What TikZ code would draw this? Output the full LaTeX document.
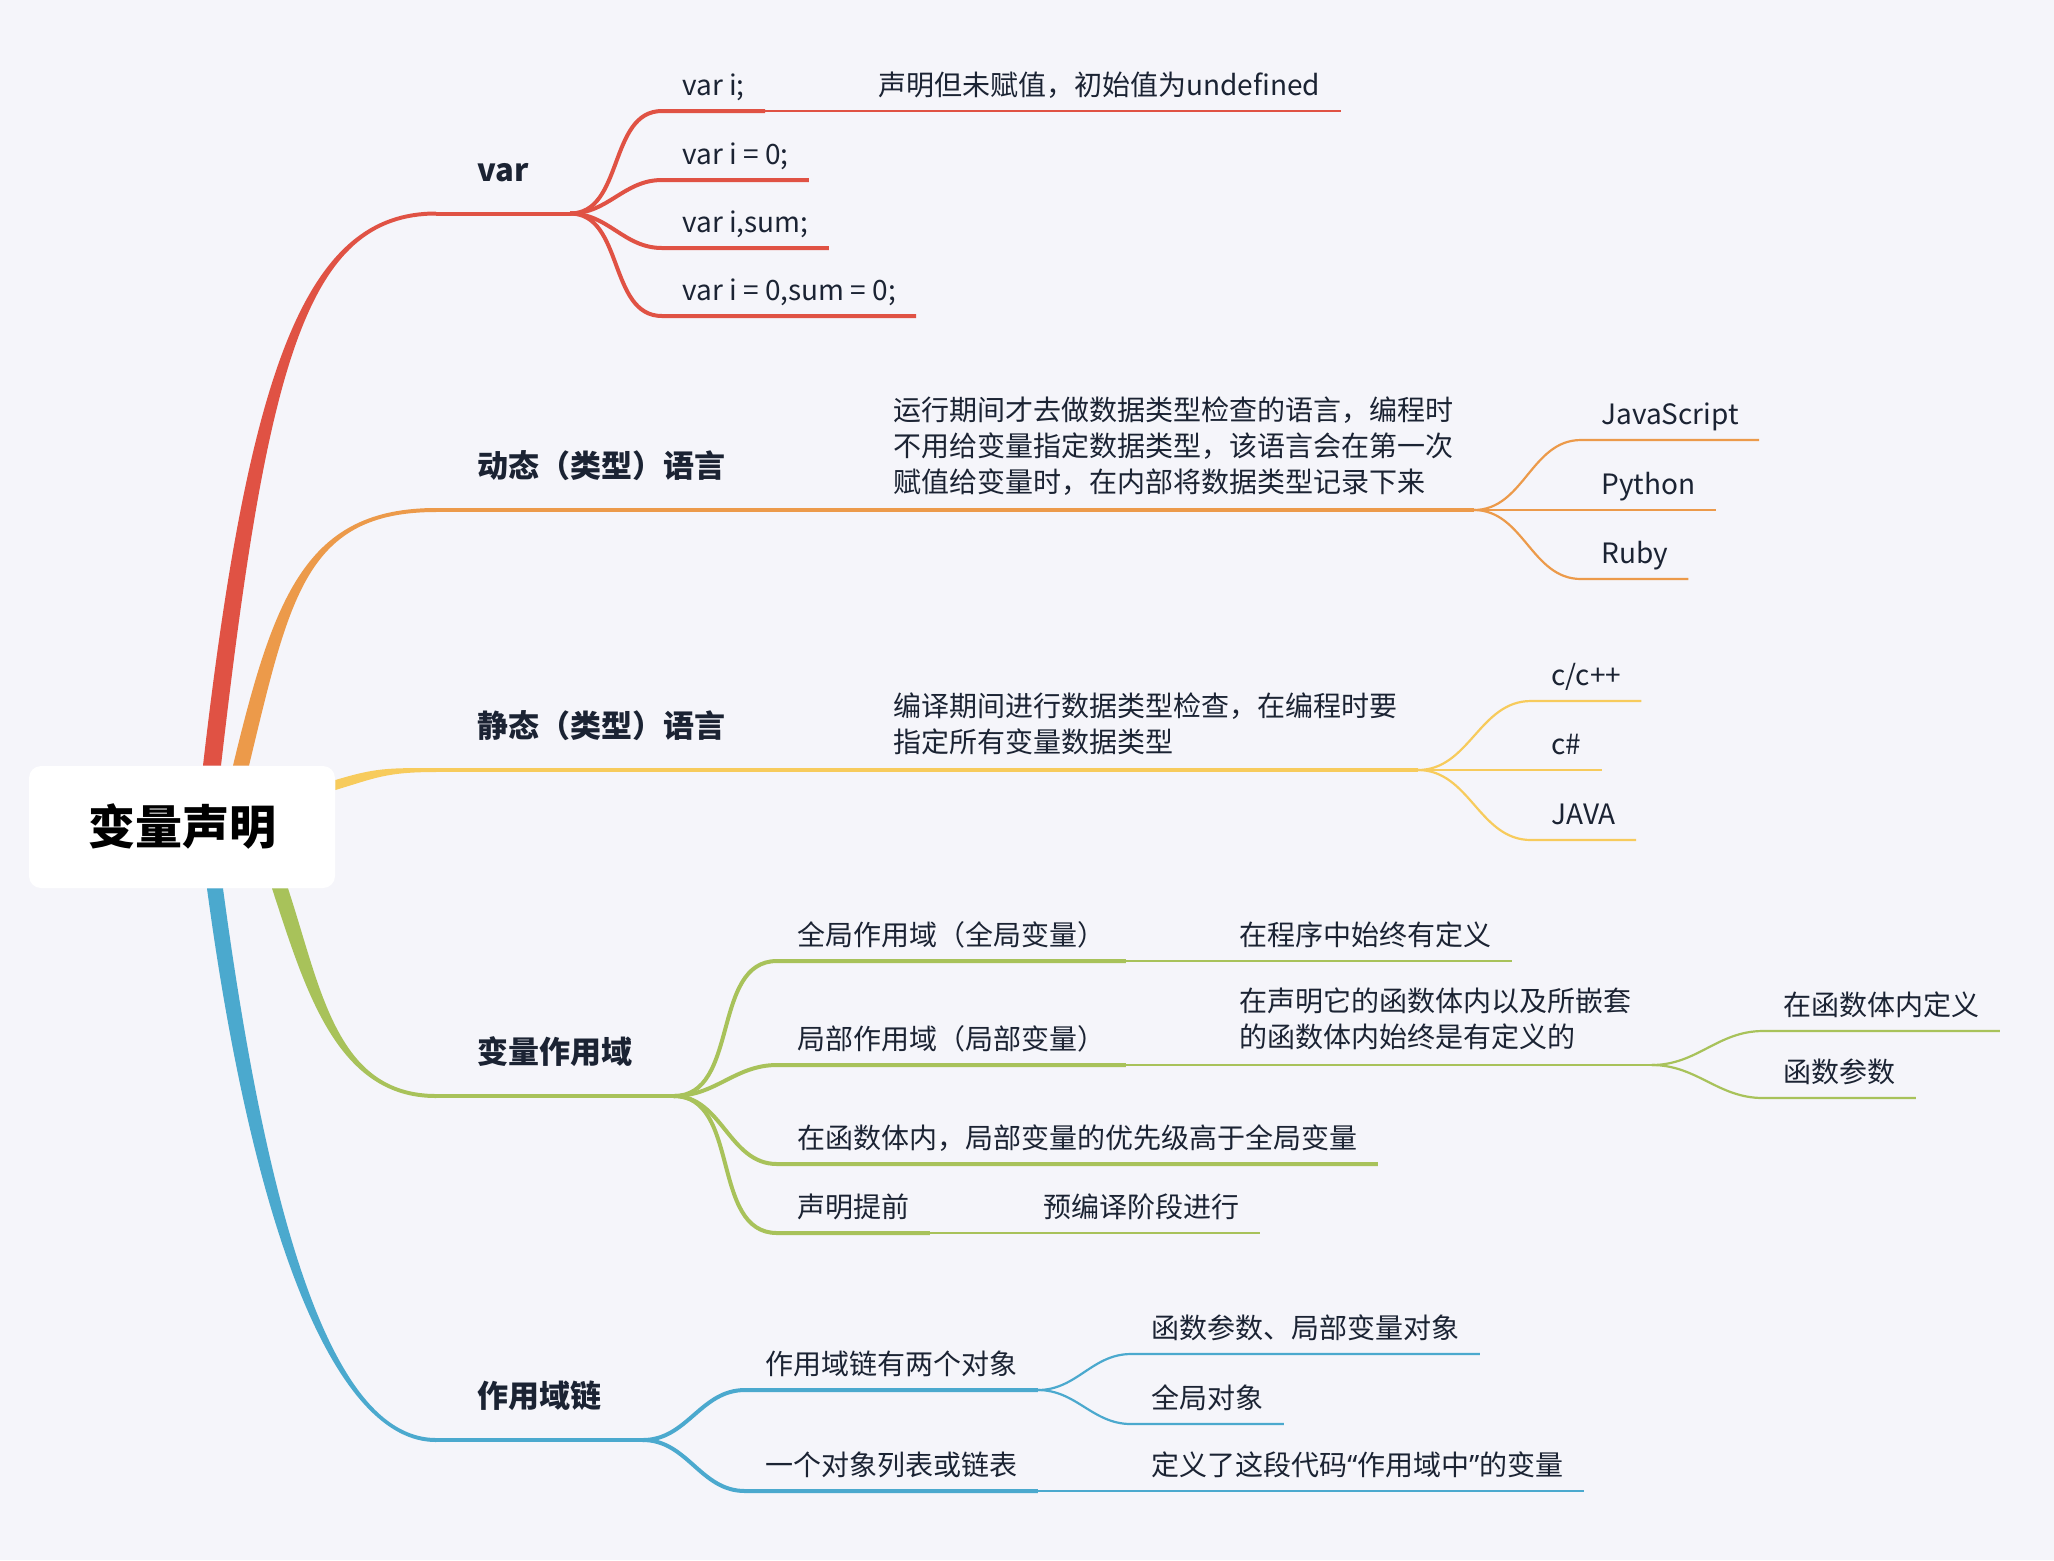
\documentclass[tikz,border=0pt]{standalone}
\usepackage{fontspec}
\setmainfont{Noto Sans CJK SC}
\newfontfamily\quotefont{Noto Sans}
\usetikzlibrary{calc}

\definecolor{paper}{HTML}{F5F5FA}
\definecolor{ink}{HTML}{1B2333}
\definecolor{cvar}{HTML}{E05244}
\definecolor{cdyn}{HTML}{EC9A4A}
\definecolor{csta}{HTML}{F7CB5C}
\definecolor{csco}{HTML}{A8C25A}
\definecolor{ccha}{HTML}{4BA9CE}

% tapered main branch: colour, start, end, control 1, control 2, half width at start
\newcommand{\trunk}[6]{%
  \fill[#1] ($(#2)-(#6)$) .. controls +(#4) and +(#5) .. ($(#3)+(0,2)$)
    -- ($(#3)-(0,2)$) .. controls +(#5) and +(#4) .. ($(#2)+(#6)$) -- cycle;}

\begin{document}
\begin{tikzpicture}[x=0.5pt, y=0.5pt,
    root/.style={fill=white, rounded corners=6pt, minimum width=153pt, minimum height=61pt, inner sep=0pt, font=\bfseries\fontsize{23.5}{28}\selectfont},
    topic/.style={anchor=south west, inner xsep=20.5pt, inner ysep=0pt, text depth=16pt, text=ink, font=\bfseries\fontsize{15.5}{19}\selectfont},
    leaf/.style={anchor=south west, inner xsep=10pt, inner ysep=0pt, text depth=7.5pt, text=ink, font=\fontsize{14}{18}\selectfont},
    para/.style={leaf, text depth=8.7pt},
    thickline/.style={line width=2pt},
    thinline/.style={line width=1.1pt}]
    \useasboundingbox (0,0) rectangle (2054,-1560);
    \fill[paper] (0,0) rectangle (2054,-1560);

    \node[root] (root) at (182,-827) {变量声明};

    % main topics
    \node[topic] (var) at (436,-213.5) {var};
    \node[topic] (dyn) at (436,-510) {动态（类型）语言};
    \node[topic] (sta) at (436,-770) {静态（类型）语言};
    \node[topic] (sco) at (436,-1096) {变量作用域};
    \node[topic] (cha) at (436,-1440) {作用域链};

    \coordinate (tvar) at ($(root.north)+(30,0)$);
    \coordinate (tdyn) at ($(root.north)+(59,0)$);
    \coordinate (tsta) at ($(root.east)+(0,42)$);
    \coordinate (tsco) at ($(root.south)+(98,0)$);
    \coordinate (tcha) at ($(root.south)+(33,0)$);

    \trunk{cvar}{tvar}{var.south west}{46,400}{-130,0}{9,0}
    \trunk{cdyn}{tdyn}{dyn.south west}{41,170}{-130,0}{8,0}
    \trunk{csta}{tsta}{sta.south west}{40,12}{-50,0}{0,-5}
    \trunk{csco}{tsco}{sco.south west}{33,-100}{-100,0}{-8,0}
    \trunk{ccha}{tcha}{cha.south west}{47,-350}{-100,0}{-8,0}

    % var
    \node[leaf] (vi1) at (662,-111) {var i;};
    \node[leaf] (vi2) at (662,-180) {var i = 0;};
    \node[leaf] (vi3) at (662,-248) {var i,sum;};
    \node[leaf] (vi4) at (662,-316) {var i = 0,sum = 0;};
    \node[leaf] (undef) at (858,-111) {声明但未赋值，初始值为undefined};

    \draw[cvar, thickline] (var.south west) -- (var.south east);
    \foreach \k in {vi1,vi2,vi3,vi4}
        \draw[cvar, thickline] (var.south east) to[out=0, in=180] (\k.south west) -- (\k.south east);
    \draw[cvar, thinline] (vi1.south east) -- (undef.south west) -- (undef.south east);

    % dynamic
    \node[para] (dyndesc) at (873,-510) {\begin{tabular}[b]{@{}l@{}}运行期间才去做数据类型检查的语言，编程时\\不用给变量指定数据类型，该语言会在第一次\\赋值给变量时，在内部将数据类型记录下来\end{tabular}};
    \node[leaf] (js) at (1581,-440) {JavaScript};
    \node[leaf] (py) at (1581,-510) {Python};
    \node[leaf] (rb) at (1581,-579) {Ruby};

    \draw[cdyn, thickline] (dyn.south west) -- (dyn.south east) -- (dyndesc.south west) -- (dyndesc.south east);
    \foreach \k in {js,py,rb}
        \draw[cdyn, thinline] (dyndesc.south east) to[out=0, in=180] (\k.south west) -- (\k.south east);

    % static
    \node[para] (stadesc) at (873,-770) {\begin{tabular}[b]{@{}l@{}}编译期间进行数据类型检查，在编程时要\\指定所有变量数据类型\end{tabular}};
    \node[leaf] (cpp) at (1531,-701) {c/c++};
    \node[leaf] (cs) at (1531,-770) {c\#};
    \node[leaf] (java) at (1531,-840) {JAVA};

    \draw[csta, thickline] (sta.south west) -- (sta.south east) -- (stadesc.south west) -- (stadesc.south east);
    \foreach \k in {cpp,cs,java}
        \draw[csta, thinline] (stadesc.south east) to[out=0, in=180] (\k.south west) -- (\k.south east);

    % scope
    \node[leaf] (glob) at (777,-961) {全局作用域（全局变量）};
    \node[leaf] (globdef) at (1219,-961) {在程序中始终有定义};
    \node[leaf] (loc) at (777,-1065) {局部作用域（局部变量）};
    \node[para] (locdef) at (1219,-1065) {\begin{tabular}[b]{@{}l@{}}在声明它的函数体内以及所嵌套\\的函数体内始终是有定义的\end{tabular}};
    \node[leaf] (infunc) at (1763,-1031) {在函数体内定义};
    \node[leaf] (params) at (1763,-1098) {函数参数};
    \node[leaf] (prio) at (777,-1164) {在函数体内，局部变量的优先级高于全局变量};
    \node[leaf] (hoist) at (777,-1233) {声明提前};
    \node[leaf] (hoistdef) at (1023,-1233) {预编译阶段进行};

    \draw[csco, thickline] (sco.south west) -- (sco.south east);
    \foreach \k in {glob,loc,prio,hoist}
        \draw[csco, thickline] (sco.south east) to[out=0, in=180] (\k.south west) -- (\k.south east);
    \draw[csco, thinline] (glob.south east) -- (globdef.south west) -- (globdef.south east);
    \draw[csco, thinline] (loc.south east) -- (locdef.south west) -- (locdef.south east);
    \foreach \k in {infunc,params}
        \draw[csco, thinline] (locdef.south east) to[out=0, in=180] (\k.south west) -- (\k.south east);
    \draw[csco, thinline] (hoist.south east) -- (hoistdef.south west) -- (hoistdef.south east);

    % chain
    \node[leaf] (twoobj) at (745,-1390) {作用域链有两个对象};
    \node[leaf] (argobj) at (1131,-1354) {函数参数、局部变量对象};
    \node[leaf] (globobj) at (1131,-1424) {全局对象};
    \node[leaf] (objlist) at (745,-1491) {一个对象列表或链表};
    \node[leaf] (listdef) at (1131,-1491) {定义了这段代码{\quotefont “}作用域中{\quotefont ”}的变量};

    \draw[ccha, thickline] (cha.south west) -- (cha.south east);
    \foreach \k in {twoobj,objlist}
        \draw[ccha, thickline] (cha.south east) to[out=0, in=180] (\k.south west) -- (\k.south east);
    \foreach \k in {argobj,globobj}
        \draw[ccha, thinline] (twoobj.south east) to[out=0, in=180] (\k.south west) -- (\k.south east);
    \draw[ccha, thinline] (objlist.south east) -- (listdef.south west) -- (listdef.south east);
\end{tikzpicture}
\end{document}
